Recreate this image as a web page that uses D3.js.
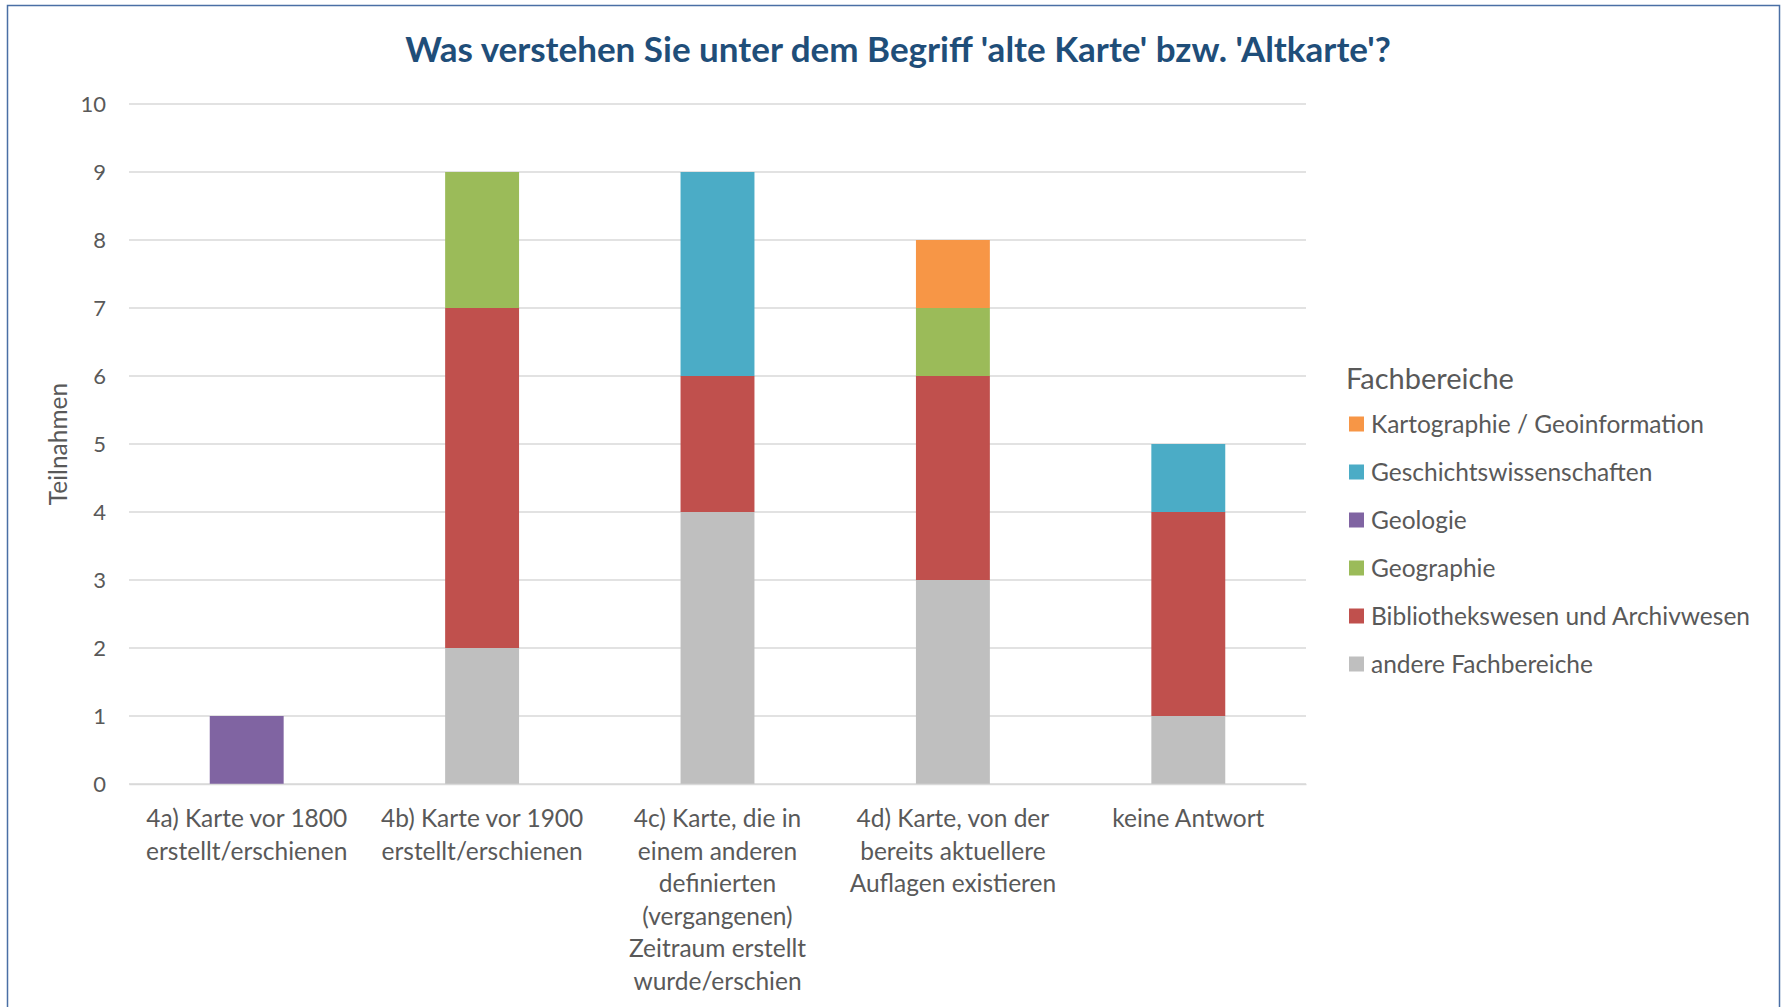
<!DOCTYPE html>
<html>
<head>
<meta charset="utf-8">
<script src="https://cdn.jsdelivr.net/npm/d3@7"></script>
<style>
  html, body { margin: 0; padding: 0; background: #fff; }
  svg { display: block; font-family: Lato, "Open Sans", sans-serif; }
</style>
</head>
<body>
<script>
const categories = [
  ["4a) Karte vor 1800", "erstellt/erschienen"],
  ["4b) Karte vor 1900", "erstellt/erschienen"],
  ["4c) Karte, die in", "einem anderen", "definierten", "(vergangenen)", "Zeitraum erstellt", "wurde/erschien"],
  ["4d) Karte, von der", "bereits aktuellere", "Auflagen existieren"],
  ["keine Antwort"],
];

// stacking order, bottom to top
const seriesNames = [
  "andere Fachbereiche",
  "Bibliothekswesen und Archivwesen",
  "Geographie",
  "Geologie",
  "Geschichtswissenschaften",
  "Kartographie / Geoinformation",
];
const andere = [0, 2, 4, 3, 1];
const bibliothek = [0, 5, 2, 3, 3];
const geographie = [0, 2, 0, 1, 0];
const geologie = [1, 0, 0, 0, 0];
const geschichte = [0, 0, 3, 0, 1];
const kartographie = [0, 0, 0, 1, 0];
const seriesValues = [andere, bibliothek, geographie, geologie, geschichte, kartographie];
const seriesColors = ["#bfbfbf", "#c0504d", "#9bbb59", "#8064a2", "#4bacc6", "#f79646"];
const yTicks = [0, 1, 2, 3, 4, 5, 6, 7, 8, 9, 10];

const W = 1787, H = 1007;
const margin = { left: 129, right: 481, top: 104, bottom: 223 };

const rows = categories.map((c, i) => {
  const r = { cat: i };
  seriesNames.forEach((s, j) => (r[s] = seriesValues[j][i]));
  return r;
});

const stack = d3.stack().keys(seriesNames)(rows);

const svg = d3.select("body").append("svg").attr("width", W).attr("height", H);

svg.append("rect")
  .attr("x", 7.5).attr("y", 5.5)
  .attr("width", 1772).attr("height", 1010)
  .attr("fill", "#fff")
  .attr("stroke", "#4a6fa5")
  .attr("stroke-width", 1.5);

const x = d3.scaleBand()
  .domain(d3.range(categories.length))
  .range([margin.left, W - margin.right])
  .paddingInner(0.686)
  .paddingOuter(0.343);

const y = d3.scaleLinear().domain([0, 10]).range([H - margin.bottom, margin.top]);

// gridlines
svg.append("g")
  .selectAll("line")
  .data(yTicks)
  .join("line")
  .attr("x1", margin.left).attr("x2", W - margin.right)
  .attr("y1", (d) => y(d)).attr("y2", (d) => y(d))
  .attr("stroke", "#d9d9d9")
  .attr("stroke-width", 1.5);

// bars
svg.append("g")
  .selectAll("g")
  .data(stack)
  .join("g")
  .attr("fill", (d, i) => seriesColors[i])
  .selectAll("rect")
  .data((d) => d.filter((p) => p[1] > p[0]))
  .join("rect")
  .attr("x", (d) => x(d.data.cat))
  .attr("width", x.bandwidth())
  .attr("y", (d) => y(d[1]))
  .attr("height", (d) => y(d[0]) - y(d[1]));

// y axis labels
const yAxis = d3.axisLeft(y).tickValues(yTicks).tickSize(0).tickPadding(23);
const gy = svg.append("g").attr("transform", `translate(${margin.left},0)`).call(yAxis);
gy.select(".domain").remove();
gy.selectAll("text").attr("font-size", 22).attr("fill", "#595959").attr("font-family", "Lato");

// x axis labels
const xAxis = d3.axisBottom(x).tickSize(0).tickFormat(() => "");
const gx = svg.append("g").attr("transform", `translate(0,${H - margin.bottom})`).call(xAxis);
gx.select(".domain").attr("stroke", "#d9d9d9").attr("stroke-width", 1.5);
gx.selectAll(".tick text").remove();
gx.selectAll(".tick")
  .append("text")
  .attr("text-anchor", "middle")
  .attr("fill", "#595959")
  .attr("font-size", 24.5)
  .attr("font-family", "Lato")
  .selectAll("tspan")
  .data((d) => categories[d])
  .join("tspan")
  .attr("x", 0)
  .attr("y", (d, i) => 43 + i * 32.5)
  .text((d) => d);

// y axis title
svg.append("text")
  .attr("transform", `translate(67,${y(5)}) rotate(-90)`)
  .attr("text-anchor", "middle")
  .attr("fill", "#595959")
  .attr("font-size", 24.5)
  .text("Teilnahmen");

// title
svg.append("text")
  .attr("x", 898).attr("y", 62)
  .attr("text-anchor", "middle")
  .attr("fill", "#1f4e79")
  .attr("font-weight", "bold")
  .attr("font-size", 35)
  .text("Was verstehen Sie unter dem Begriff 'alte Karte' bzw. 'Altkarte'?");

// legend
const legend = svg.append("g").attr("transform", "translate(1346,0)");
legend.append("text")
  .attr("x", 0).attr("y", 389)
  .attr("fill", "#595959")
  .attr("font-size", 29)
  .text("Fachbereiche");

const legendOrder = d3.range(seriesNames.length).reverse();
const item = legend.selectAll("g.item")
  .data(legendOrder)
  .join("g")
  .attr("class", "item")
  .attr("transform", (d, i) => `translate(0,${424 + i * 48})`);
item.append("rect")
  .attr("x", 3).attr("y", -7.5)
  .attr("width", 15).attr("height", 15)
  .attr("fill", (d) => seriesColors[d]);
item.append("text")
  .attr("x", 25).attr("y", 8.5)
  .attr("fill", "#595959")
  .attr("font-size", 24.5)
  .text((d) => seriesNames[d]);
</script>
</body>
</html>
